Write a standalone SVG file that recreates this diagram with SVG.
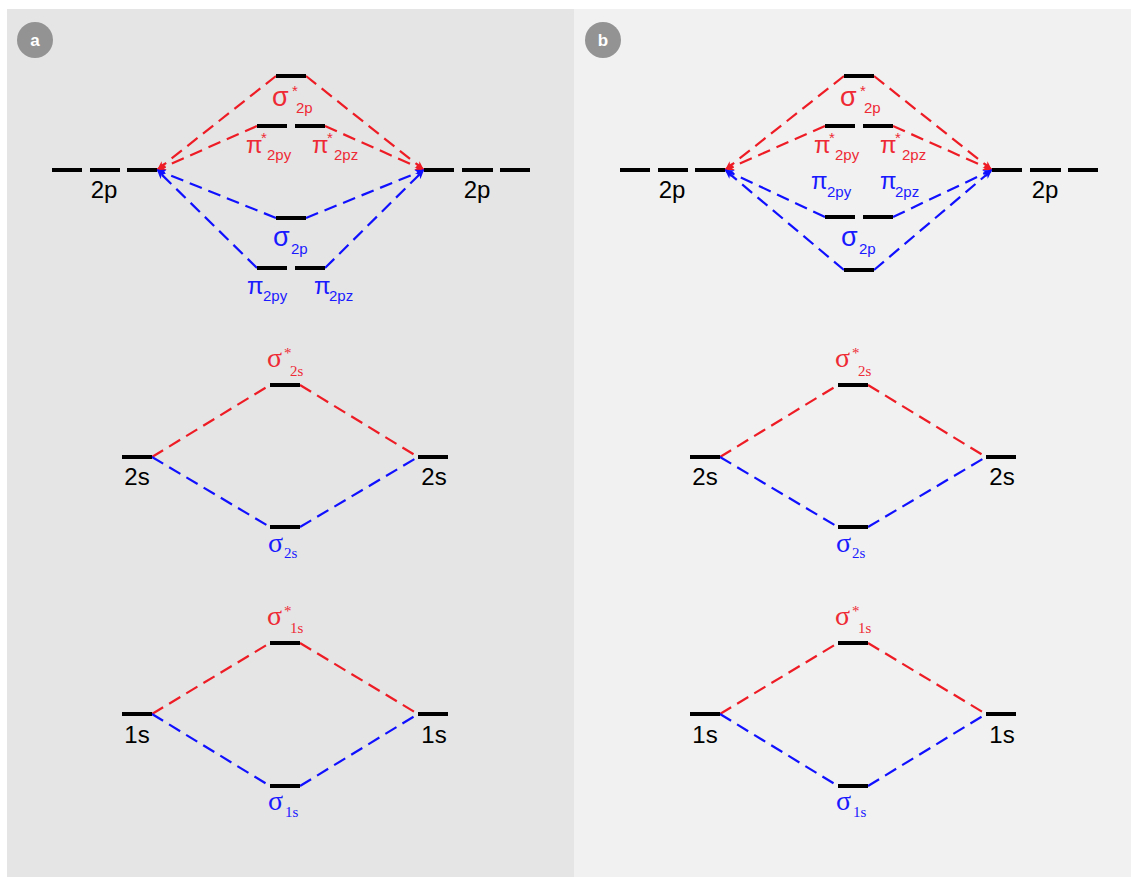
<svg xmlns="http://www.w3.org/2000/svg" width="1131" height="877" viewBox="0 0 1131 877">
<defs>
<style>
.lvl{stroke:#000;stroke-width:4;fill:none}
.r{stroke:#ee1c25;stroke-width:2.2;stroke-dasharray:13 7;fill:none}
.b{stroke:#1010ff;stroke-width:2.2;stroke-dasharray:13 7;fill:none}
.ra{marker-end:url(#ar)}
.ba{marker-end:url(#ab)}
.ao{font-family:"Liberation Sans",Arial,sans-serif;font-size:24px;fill:#000;text-anchor:middle}
.sg{font-family:"Liberation Sans",Arial,sans-serif;font-size:27px}
.pi{font-family:"Liberation Sans",Arial,sans-serif;font-size:24px}
.sub{font-family:"Liberation Sans",Arial,sans-serif;font-size:15px}
.sgs{font-family:"Liberation Serif","Times New Roman",serif;font-size:28px}
.subs{font-family:"Liberation Serif","Times New Roman",serif;font-size:15px}
.red{fill:#ee2a35}
.blue{fill:#1a1aff}
.badge{fill:#939393}
.bt{font-family:"Liberation Sans",Arial,sans-serif;font-size:17px;font-weight:bold;fill:#fff;text-anchor:middle}
</style>
<marker id="ar" markerUnits="userSpaceOnUse" markerWidth="10" markerHeight="8" refX="9" refY="4" orient="auto"><path d="M0,0 L9,4 L0,8 L2.5,4 z" fill="#ee1c25"/></marker>
<marker id="ab" markerUnits="userSpaceOnUse" markerWidth="10" markerHeight="8" refX="9" refY="4" orient="auto"><path d="M0,0 L9,4 L0,8 L2.5,4 z" fill="#1010ff"/></marker>
</defs>
<rect width="1131" height="877" fill="#fff"/>
<rect id="panel-a" x="7" y="9" width="567" height="868" fill="#e5e5e5"/>
<rect id="panel-b" x="574" y="9" width="557" height="868" fill="#f1f1f1"/>
<g id="badge-a"><circle class="badge" cx="35" cy="40" r="18"/><text class="bt" x="35" y="46">a</text></g>
<g id="badge-b"><circle class="badge" cx="603" cy="40" r="18"/><text class="bt" x="603" y="46">b</text></g>

<g id="connectors">
<path class="r ra" d="M276,76 L157,170"/>
<path class="r ra" d="M257,126 L157,170"/>
<path class="r ra" d="M306,76 L424,170"/>
<path class="r ra" d="M325,126 L424,170"/>
<path class="b ba" d="M276,218 L157,170"/>
<path class="b ba" d="M257,268 L157,170"/>
<path class="b ba" d="M306,218 L424,170"/>
<path class="b ba" d="M325,268 L424,170"/>
<path class="r" d="M152,457 L270,385"/>
<path class="r" d="M300,385 L418,457"/>
<path class="b" d="M152,457 L270,527"/>
<path class="b" d="M300,527 L418,457"/>
<path class="r" d="M152,714 L270,643"/>
<path class="r" d="M300,643 L418,714"/>
<path class="b" d="M152,714 L270,786"/>
<path class="b" d="M300,786 L418,714"/>
<path class="r ra" d="M844,76 L725,170"/>
<path class="r ra" d="M825,126 L725,170"/>
<path class="r ra" d="M874,76 L992,170"/>
<path class="r ra" d="M893,126 L992,170"/>
<path class="b ba" d="M825,217 L725,170"/>
<path class="b ba" d="M844,270 L725,170"/>
<path class="b ba" d="M893,217 L992,170"/>
<path class="b ba" d="M874,270 L992,170"/>
<path class="r" d="M720,457 L838,385"/>
<path class="r" d="M868,385 L986,457"/>
<path class="b" d="M720,457 L838,527"/>
<path class="b" d="M868,527 L986,457"/>
<path class="r" d="M720,714 L838,643"/>
<path class="r" d="M868,643 L986,714"/>
<path class="b" d="M720,714 L838,786"/>
<path class="b" d="M868,786 L986,714"/>
</g>

<g id="a-2p-left"><path class="lvl" d="M52,170 H82 M90,170 H120 M127,170 H157"/><text class="ao" x="104" y="198">2p</text></g>
<g id="a-2p-right"><path class="lvl" d="M424,170 H454 M462,170 H493 M500,170 H530"/><text class="ao" x="477" y="198">2p</text></g>
<g id="a-sigma-star-2p"><path class="lvl" d="M276,76 H306"/><text class="red"><tspan class="sg" x="272" y="106">σ</tspan><tspan class="sub" x="292" y="96">*</tspan><tspan class="sub" x="296" y="113">2p</tspan></text></g>
<g id="a-pi-star-2p"><path class="lvl" d="M257,126 H287 M295,126 H325"/>
<text class="red"><tspan class="pi" x="246" y="153">π</tspan><tspan class="sub" x="261" y="143">*</tspan><tspan class="sub" x="267" y="160">2py</tspan></text>
<text class="red"><tspan class="pi" x="312" y="153">π</tspan><tspan class="sub" x="327" y="143">*</tspan><tspan class="sub" x="334" y="160">2pz</tspan></text></g>
<g id="a-sigma-2p"><path class="lvl" d="M276,218 H306"/><text class="blue"><tspan class="sg" x="273" y="246">σ</tspan><tspan class="sub" x="291" y="254">2p</tspan></text></g>
<g id="a-pi-2p"><path class="lvl" d="M257,268 H287 M295,268 H325"/>
<text class="blue"><tspan class="pi" x="247" y="294">π</tspan><tspan class="sub" x="263" y="301">2py</tspan></text>
<text class="blue"><tspan class="pi" x="314" y="294">π</tspan><tspan class="sub" x="329" y="301">2pz</tspan></text></g>

<g id="a-2s-left"><path class="lvl" d="M122,457 H152"/><text class="ao" x="137" y="485">2s</text></g>
<g id="a-2s-right"><path class="lvl" d="M418,457 H448"/><text class="ao" x="434" y="485">2s</text></g>
<g id="a-sigma-star-2s"><path class="lvl" d="M270,385 H300"/><text class="red"><tspan class="sgs" x="267" y="367">σ</tspan><tspan class="subs" x="284" y="358">*</tspan><tspan class="subs" x="290" y="376">2s</tspan></text></g>
<g id="a-sigma-2s"><path class="lvl" d="M270,527 H300"/><text class="blue"><tspan class="sgs" x="268" y="552">σ</tspan><tspan class="subs" x="284" y="558">2s</tspan></text></g>

<g id="a-1s-left"><path class="lvl" d="M122,714 H152"/><text class="ao" x="137" y="743">1s</text></g>
<g id="a-1s-right"><path class="lvl" d="M418,714 H448"/><text class="ao" x="434" y="743">1s</text></g>
<g id="a-sigma-star-1s"><path class="lvl" d="M270,643 H300"/><text class="red"><tspan class="sgs" x="267" y="625">σ</tspan><tspan class="subs" x="284" y="616">*</tspan><tspan class="subs" x="290" y="633">1s</tspan></text></g>
<g id="a-sigma-1s"><path class="lvl" d="M270,786 H300"/><text class="blue"><tspan class="sgs" x="268" y="810">σ</tspan><tspan class="subs" x="285" y="817">1s</tspan></text></g>

<g id="b-2p-left"><path class="lvl" d="M620,170 H650 M658,170 H688 M695,170 H725"/><text class="ao" x="672" y="198">2p</text></g>
<g id="b-2p-right"><path class="lvl" d="M992,170 H1022 M1030,170 H1061 M1068,170 H1098"/><text class="ao" x="1045" y="198">2p</text></g>
<g id="b-sigma-star-2p"><path class="lvl" d="M844,76 H874"/><text class="red"><tspan class="sg" x="840" y="106">σ</tspan><tspan class="sub" x="860" y="96">*</tspan><tspan class="sub" x="864" y="113">2p</tspan></text></g>
<g id="b-pi-star-2p"><path class="lvl" d="M825,126 H855 M863,126 H893"/>
<text class="red"><tspan class="pi" x="814" y="153">π</tspan><tspan class="sub" x="829" y="143">*</tspan><tspan class="sub" x="835" y="160">2py</tspan></text>
<text class="red"><tspan class="pi" x="880" y="153">π</tspan><tspan class="sub" x="895" y="143">*</tspan><tspan class="sub" x="902" y="160">2pz</tspan></text></g>
<g id="b-pi-2p"><path class="lvl" d="M825,217 H855 M863,217 H893"/>
<text class="blue"><tspan class="pi" x="811" y="189">π</tspan><tspan class="sub" x="827" y="197">2py</tspan></text>
<text class="blue"><tspan class="pi" x="880" y="189">π</tspan><tspan class="sub" x="895" y="197">2pz</tspan></text></g>
<g id="b-sigma-2p"><path class="lvl" d="M844,270 H874"/><text class="blue"><tspan class="sg" x="841" y="246">σ</tspan><tspan class="sub" x="859" y="254">2p</tspan></text></g>

<g id="b-2s-left"><path class="lvl" d="M690,457 H720"/><text class="ao" x="705" y="485">2s</text></g>
<g id="b-2s-right"><path class="lvl" d="M986,457 H1016"/><text class="ao" x="1002" y="485">2s</text></g>
<g id="b-sigma-star-2s"><path class="lvl" d="M838,385 H868"/><text class="red"><tspan class="sgs" x="835" y="367">σ</tspan><tspan class="subs" x="852" y="358">*</tspan><tspan class="subs" x="858" y="376">2s</tspan></text></g>
<g id="b-sigma-2s"><path class="lvl" d="M838,527 H868"/><text class="blue"><tspan class="sgs" x="836" y="552">σ</tspan><tspan class="subs" x="852" y="558">2s</tspan></text></g>

<g id="b-1s-left"><path class="lvl" d="M690,714 H720"/><text class="ao" x="705" y="743">1s</text></g>
<g id="b-1s-right"><path class="lvl" d="M986,714 H1016"/><text class="ao" x="1002" y="743">1s</text></g>
<g id="b-sigma-star-1s"><path class="lvl" d="M838,643 H868"/><text class="red"><tspan class="sgs" x="835" y="625">σ</tspan><tspan class="subs" x="852" y="616">*</tspan><tspan class="subs" x="858" y="633">1s</tspan></text></g>
<g id="b-sigma-1s"><path class="lvl" d="M838,786 H868"/><text class="blue"><tspan class="sgs" x="836" y="810">σ</tspan><tspan class="subs" x="853" y="817">1s</tspan></text></g>
</svg>
